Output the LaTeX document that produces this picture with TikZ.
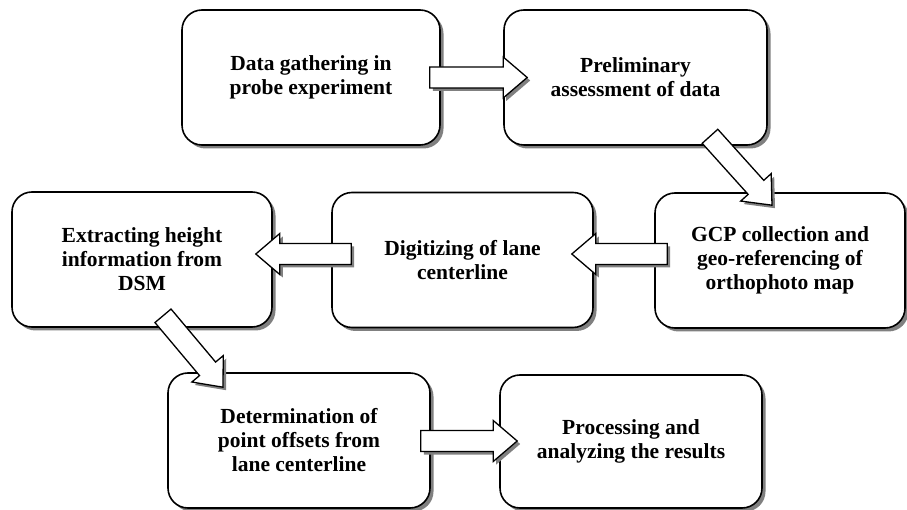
\documentclass[tikz,border=0pt]{standalone}
\usepackage{fontspec}
\setmainfont{Liberation Serif}
\usetikzlibrary{calc,shadows}
\tikzset{
  procbox/.style={draw=black, line width=1.6pt, fill=white, rounded corners=20pt,
    minimum height=135pt, align=center, inner sep=0pt,
    font=\bfseries\fontsize{21.5}{24}\selectfont,
    drop shadow={shadow xshift=3.5pt, shadow yshift=-3.5pt, fill=black!50, opacity=1}},
  arrbody/.style={draw=black, line width=1.3pt, fill=white, line join=miter},
  arrshade/.style={fill=black!50},
}
\newcommand\blockarrowpath[2]{($(#1)!10.5pt!90:(#2)$) -- ($(ba-c)!10.5pt!90:(#2)$) -- ($(ba-c)!20.5pt!90:(#2)$) -- (#2) -- ($(ba-c)!20.5pt!-90:(#2)$) -- ($(ba-c)!10.5pt!-90:(#2)$) -- ($(#1)!10.5pt!-90:(#2)$) -- cycle}
\newcommand\blockarrow[2]{%
  \coordinate (ba-c) at ($(#2)!24pt!(#1)$);
  \begin{scope}[transform canvas={shift={(3pt,-3pt)}}]
    \fill[arrshade] \blockarrowpath{#1}{#2};
  \end{scope}
  \draw[arrbody] \blockarrowpath{#1}{#2};
}
\begin{document}
\begin{tikzpicture}[x=1pt,y=-1pt]
\useasboundingbox (0,0) rectangle (907,510);

\node[procbox, minimum width=258pt] (b1) at (311,77.5) {Data gathering in\\probe experiment};
\node[procbox, minimum width=263pt] (b2) at (635.5,77.5) {Preliminary\\assessment of data};
\node[procbox, minimum width=250pt] (b3) at (780,260.5) {GCP collection and\\geo-referencing of\\orthophoto map};
\node[procbox, minimum width=261pt] (b4) at (462.5,260) {Digitizing of lane\\centerline};
\node[procbox, minimum width=260pt] (b5) at (142,259.5) {Extracting height\\information from\\DSM};
\node[procbox, minimum width=262pt] (b6) at (299,440.5) {Determination of\\point offsets from\\lane centerline};
\node[procbox, minimum width=262pt, minimum height=133pt] (b7) at (631,441.5) {Processing and\\analyzing the results};

\coordinate (t1) at ($(b1.east)+(-11,0)$);
\coordinate (h1) at ($(b2.west)+(24,0)$);
\coordinate (t2) at ($(b2.south)+(74.5,-9.5)$);
\coordinate (h2) at ($(b3.north)+(-8,13)$);
\coordinate (t3) at ($(b3.west)+(13,-6.5)$);
\coordinate (h3) at ($(b4.east)+(-22,-6)$);
\coordinate (t4) at ($(b4.west)+(20,-6)$);
\coordinate (h4) at ($(b5.east)+(-17,-5.5)$);
\coordinate (t5) at ($(b5.south)+(21,-12)$);
\coordinate (h5) at ($(b6.north)+(-76,15)$);
\coordinate (t6) at ($(b6.east)+(-10,0.5)$);
\coordinate (h6) at ($(b7.west)+(18,-0.5)$);

\blockarrow{t1}{h1}
\blockarrow{t2}{h2}
\blockarrow{t3}{h3}
\blockarrow{t4}{h4}
\blockarrow{t5}{h5}
\blockarrow{t6}{h6}
\end{tikzpicture}
\end{document}
